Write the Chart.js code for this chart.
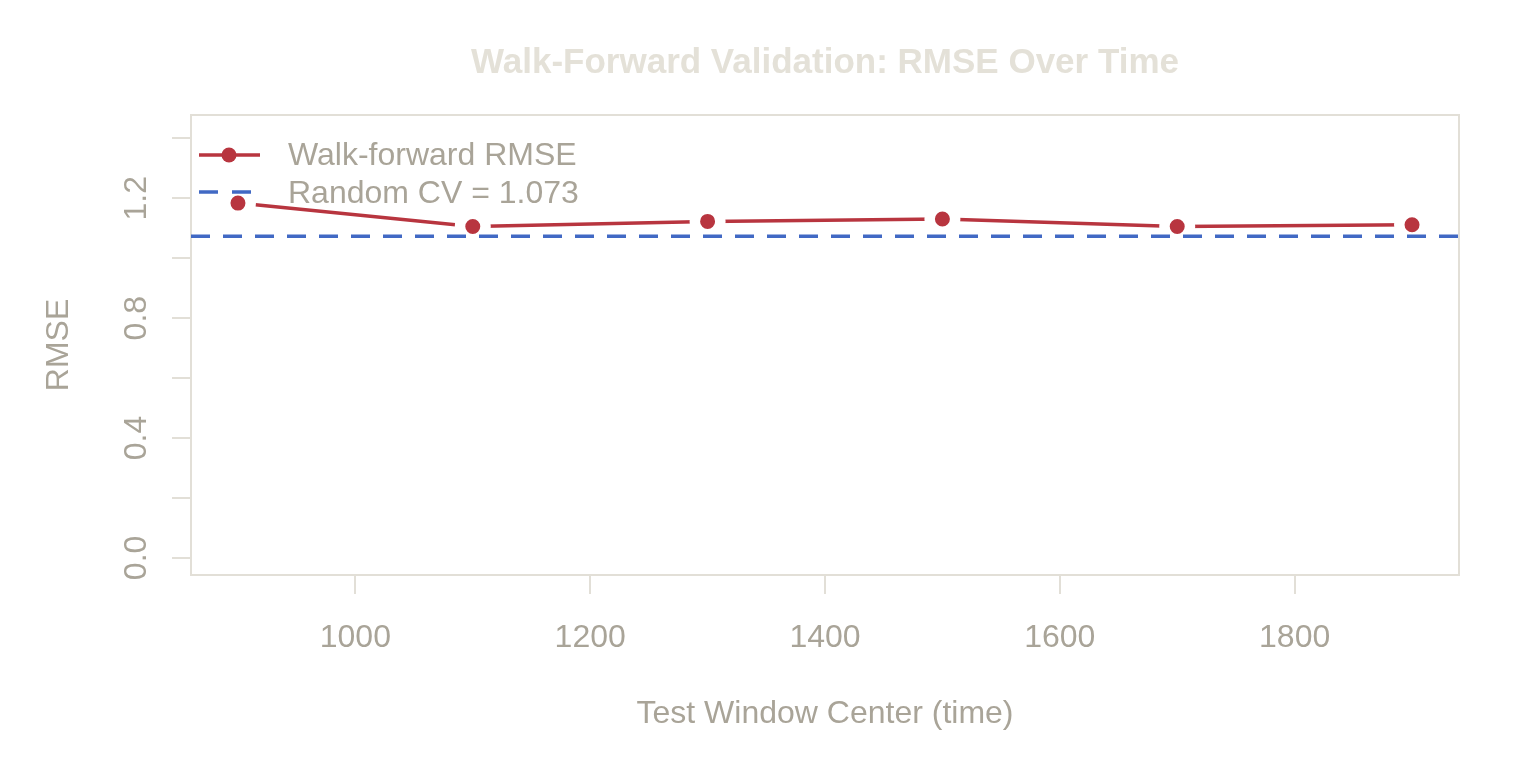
<!DOCTYPE html>
<html>
<head>
<meta charset="utf-8">
<title>Walk-Forward Validation: RMSE Over Time</title>
<script src="https://cdn.jsdelivr.net/npm/chart.js@4.4.1/dist/chart.umd.min.js"></script>
<style>
  html, body { margin: 0; padding: 0; background: #ffffff; }
  canvas { display: block; }
</style>
</head>
<body>
<canvas id="chart" width="1536" height="768"></canvas>
<script>
// ---- data ----
const windowCenters = [900, 1100, 1300, 1500, 1700, 1900];
const walkForwardRmse = [1.184, 1.106, 1.123, 1.131, 1.106, 1.112];
const randomCvRmse = 1.073;

const xTicks = [1000, 1200, 1400, 1600, 1800];
const yTicks = [0, 0.2, 0.4, 0.6, 0.8, 1.0, 1.2, 1.4];
const yTickLabels = [0, 0.4, 0.8, 1.2];

const titleText = "Walk-Forward Validation: RMSE Over Time";
const xTitle = "Test Window Center (time)";
const yTitle = "RMSE";
const legendLabels = ["Walk-forward RMSE", "Random CV = " + randomCvRmse.toFixed(3)];

// axis limits (R style, 4% padding)
const xMin = 860, xMax = 1940;
const yMin = -0.057, yMax = 1.478;

// ---- styles ----
const RED = "#b8353f";
const BLUE = "#4169c4";
const TEXT = "#a9a498";
const TITLE = "#e4e1d8";
const BOX = "#e2dfd7";
const FONT = '"Liberation Sans", Arial, Helvetica, sans-serif';

// ================= DECOR PLUGIN =================
const decor = {
  id: "decor",
  beforeDatasetsDraw(chart) {
    const { ctx, chartArea: a } = chart;
    ctx.save();
    ctx.strokeStyle = BOX;
    ctx.lineWidth = 2;
    ctx.strokeRect(a.left, a.top, a.right - a.left, a.bottom - a.top);
    ctx.restore();
  },
  afterDatasetsDraw(chart) {
    const { ctx, chartArea: a, scales: { y } } = chart;
    const cx = (a.left + a.right) / 2;
    ctx.save();

    // title
    ctx.fillStyle = TITLE;
    ctx.font = "bold 35px " + FONT;
    ctx.textAlign = "center";
    ctx.textBaseline = "middle";
    ctx.fillText(titleText, cx, a.top - 52);

    // axis titles
    ctx.fillStyle = TEXT;
    ctx.font = "32px " + FONT;
    ctx.fillText(xTitle, cx, a.bottom + 139);
    ctx.save();
    ctx.translate(a.left - 132, (a.top + a.bottom) / 2);
    ctx.rotate(-Math.PI / 2);
    ctx.fillText(yTitle, 0, 0);
    ctx.restore();

    // rotated y tick labels
    yTickLabels.forEach(v => {
      ctx.save();
      ctx.translate(a.left - 54, y.getPixelForValue(v));
      ctx.rotate(-Math.PI / 2);
      ctx.fillText(v.toFixed(1), 0, 0);
      ctx.restore();
    });

    // legend
    const lx0 = a.left + 8, lx1 = a.left + 69, lpx = a.left + 38, ltx = a.left + 97;
    const row1 = a.top + 40, row2 = a.top + 77;
    ctx.lineWidth = 3.5;
    ctx.strokeStyle = RED;
    ctx.beginPath(); ctx.moveTo(lx0, row1); ctx.lineTo(lx1, row1); ctx.stroke();
    ctx.fillStyle = RED;
    ctx.beginPath(); ctx.arc(lpx, row1, 7.5, 0, Math.PI * 2); ctx.fill();
    ctx.strokeStyle = BLUE;
    ctx.setLineDash([19, 14]);
    ctx.beginPath(); ctx.moveTo(lx0, row2); ctx.lineTo(lx1, row2); ctx.stroke();
    ctx.setLineDash([]);
    ctx.fillStyle = TEXT;
    ctx.textAlign = "left";
    ctx.fillText(legendLabels[0], ltx, row1 + 1);
    ctx.fillText(legendLabels[1], ltx, row2 + 2);

    ctx.restore();
  }
};

// ================= CHART =================
const ctx = document.getElementById("chart").getContext("2d");
new Chart(ctx, {
  type: "line",
  data: {
    datasets: [
      {
        label: legendLabels[0],
        data: windowCenters.map((x, i) => ({ x, y: walkForwardRmse[i] })),
        borderColor: RED,
        borderWidth: 3.5,
        pointBackgroundColor: RED,
        pointBorderColor: "#ffffff",
        pointBorderWidth: 10.5,
        pointRadius: 12.75,
        tension: 0,
        order: 1
      },
      {
        label: legendLabels[1],
        data: [{ x: xMin, y: randomCvRmse }, { x: xMax, y: randomCvRmse }],
        borderColor: BLUE,
        borderWidth: 3.5,
        borderDash: [19, 13],
        pointRadius: 0,
        order: 0
      }
    ]
  },
  plugins: [decor],
  options: {
    responsive: false,
    animation: false,
    devicePixelRatio: 1,
    layout: { padding: { left: 0, top: 115, right: 77, bottom: 0 } },
    plugins: {
      legend: { display: false },
      title: { display: false },
      tooltip: { enabled: false }
    },
    scales: {
      x: {
        type: "linear",
        min: xMin,
        max: xMax,
        afterFit: s => { s.height = 193; },
        afterBuildTicks: s => { s.ticks = xTicks.map(v => ({ value: v })); },
        border: { display: false },
        grid: { drawOnChartArea: false, drawTicks: true, tickLength: 19, tickColor: BOX, lineWidth: 2 },
        ticks: {
          color: TEXT,
          font: { family: FONT, size: 32 },
          padding: 25,
          maxRotation: 0,
          callback: v => String(v)
        }
      },
      y: {
        type: "linear",
        min: yMin,
        max: yMax,
        afterFit: s => { s.width = 191; },
        afterBuildTicks: s => { s.ticks = yTicks.map(v => ({ value: v })); },
        border: { display: false },
        grid: { drawOnChartArea: false, drawTicks: true, tickLength: 19, tickColor: BOX, lineWidth: 2 },
        ticks: { display: false }
      }
    }
  }
});
</script>
</body>
</html>
